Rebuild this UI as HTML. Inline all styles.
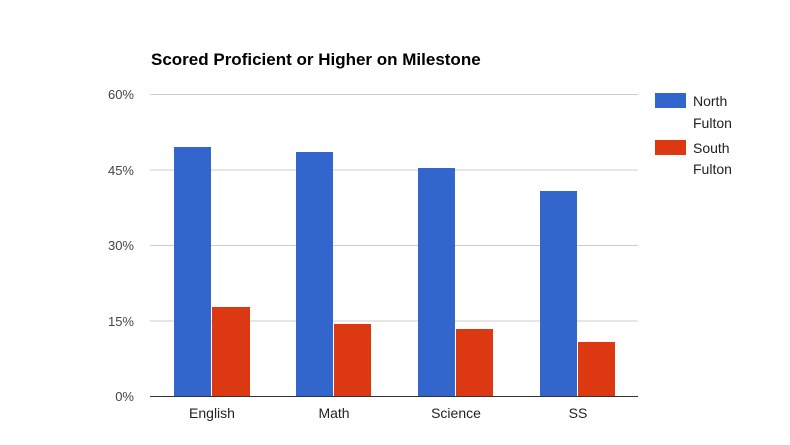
<!DOCTYPE html>
<html><head><style>body{margin:0;background:#fff}</style></head><body>
<svg width="790" height="440" xmlns="http://www.w3.org/2000/svg" font-family="Liberation Sans, Arial, sans-serif">
<rect width="790" height="440" fill="#fff"/>
<text x="151" y="65" font-size="17" font-weight="bold" fill="#000">Scored Proficient or Higher on Milestone</text>
<g stroke="#ccc" stroke-width="1">
<line x1="150" x2="638" y1="94.5" y2="94.5"/>
<line x1="150" x2="638" y1="170" y2="170"/>
<line x1="150" x2="638" y1="245.5" y2="245.5"/>
<line x1="150" x2="638" y1="321" y2="321"/>
</g>
<g font-size="13" fill="#444" text-anchor="end">
<text x="134" y="99">60%</text>
<text x="134" y="175">45%</text>
<text x="134" y="250">30%</text>
<text x="134" y="326">15%</text>
<text x="134" y="401">0%</text>
</g>
<g fill="#3366cc">
<rect x="174" y="147" width="37" height="249"/>
<rect x="296" y="152" width="37" height="244"/>
<rect x="418" y="168" width="37" height="228"/>
<rect x="540" y="191" width="37" height="205"/>
</g>
<g fill="#dc3912">
<rect x="212" y="307" width="38" height="89"/>
<rect x="334" y="324" width="37" height="72"/>
<rect x="456" y="329" width="37" height="67"/>
<rect x="578" y="342" width="37" height="54"/>
</g>
<line x1="150" x2="638" y1="396.5" y2="396.5" stroke="#333"/>
<g font-size="14" fill="#222" text-anchor="middle">
<text x="212" y="418">English</text>
<text x="334" y="418">Math</text>
<text x="456" y="418">Science</text>
<text x="578" y="418">SS</text>
</g>
<rect x="655" y="93" width="31" height="15" fill="#3366cc"/>
<rect x="655" y="140" width="31" height="15" fill="#dc3912"/>
<g font-size="14" fill="#222">
<text x="693" y="106">North</text>
<text x="693" y="128">Fulton</text>
<text x="693" y="153">South</text>
<text x="693" y="174">Fulton</text>
</g>
</svg>
</body></html>
